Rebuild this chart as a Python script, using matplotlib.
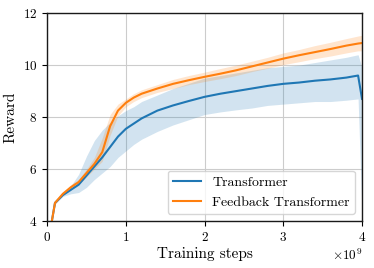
import numpy as np
import matplotlib
matplotlib.use('Agg')
import matplotlib.pyplot as plt

plt.rcParams['font.family'] = 'serif'
plt.rcParams['font.serif'] = ['cmr10']
plt.rcParams['mathtext.fontset'] = 'cm'
plt.rcParams['axes.formatter.use_mathtext'] = True

# Trainingsschritte (in 1e9)
steps = [0.06, 0.1, 0.2, 0.3, 0.4, 0.5, 0.6, 0.7, 0.8, 0.9, 1.0, 1.1, 1.2, 1.4,
         1.6, 1.8, 2.0, 2.2, 2.4, 2.6, 2.8, 3.0, 3.2, 3.4, 3.6, 3.8, 3.95, 4.0]

# Transformer
tf_mean = [4.0, 4.7, 5.0, 5.2, 5.4, 5.75, 6.1, 6.45, 6.85, 7.25, 7.55, 7.75, 7.95, 8.25,
           8.45, 8.62, 8.78, 8.9, 9.0, 9.1, 9.2, 9.28, 9.33, 9.4, 9.45, 9.52, 9.6, 8.7]
tf_low = [4.0, 4.65, 4.95, 5.05, 5.1, 5.3, 5.6, 5.85, 6.1, 6.45, 6.7, 6.95, 7.15, 7.45,
          7.7, 7.9, 8.1, 8.2, 8.28, 8.35, 8.45, 8.5, 8.55, 8.6, 8.6, 8.65, 8.7, 4.2]
tf_high = [4.0, 4.75, 5.05, 5.35, 5.8, 6.5, 7.1, 7.5, 7.8, 8.05, 8.25, 8.4, 8.6, 8.85,
           9.1, 9.3, 9.5, 9.6, 9.7, 9.8, 9.9, 9.95, 10.0, 10.1, 10.2, 10.3, 10.4, 9.9]

# Feedback Transformer
fb_mean = [4.0, 4.7, 5.05, 5.3, 5.5, 5.85, 6.2, 6.65, 7.65, 8.25, 8.55, 8.75, 8.9, 9.1,
           9.28, 9.42, 9.55, 9.67, 9.8, 9.95, 10.1, 10.25, 10.38, 10.5, 10.62, 10.75, 10.83, 10.85]
fb_low = [4.0, 4.65, 5.0, 5.2, 5.4, 5.7, 6.0, 6.3, 7.3, 8.05, 8.4, 8.6, 8.75, 8.95,
          9.1, 9.25, 9.37, 9.48, 9.6, 9.75, 9.88, 10.02, 10.13, 10.25, 10.35, 10.47, 10.55, 10.55]
fb_high = [4.0, 4.75, 5.1, 5.4, 5.6, 6.0, 6.45, 7.2, 8.1, 8.5, 8.7, 8.9, 9.05, 9.25,
           9.45, 9.6, 9.73, 9.87, 10.0, 10.15, 10.3, 10.47, 10.6, 10.75, 10.88, 11.02, 11.12, 11.15]

x = np.array(steps) * 1e9

fig, ax = plt.subplots(figsize=(3.74, 2.68), dpi=100)
fig.subplots_adjust(left=0.126, right=0.968, bottom=0.175, top=0.951)

ax.fill_between(x, tf_low, tf_high, color='#1f77b4', alpha=0.2, linewidth=0)
ax.plot(x, tf_mean, color='#1f77b4', lw=1.5, label='Transformer')
ax.fill_between(x, fb_low, fb_high, color='#ff7f0e', alpha=0.2, linewidth=0)
ax.plot(x, fb_mean, color='#ff7f0e', lw=1.5, label='Feedback Transformer')

ax.set_xlim(0, 4e9)
ax.set_ylim(4, 12)
ax.set_xticks([0, 1e9, 2e9, 3e9, 4e9])
ax.set_yticks([4, 6, 8, 10, 12])
ax.grid(True, color='#cccccc', lw=0.8)
ax.set_axisbelow(True)
for s in ax.spines.values():
    s.set_color('0.1')
    s.set_linewidth(1.0)
ax.tick_params(labelsize=9.5, length=3.5, width=0.8)
ax.xaxis.get_offset_text().set_fontsize(9.5)

ax.set_xlabel('Training steps', fontsize=11, labelpad=2)
ax.set_ylabel('Reward', fontsize=11, labelpad=4)
ax.legend(loc='lower right', fontsize=10, framealpha=0.8, edgecolor='#cccccc')

plt.savefig('out.png', dpi=100)
